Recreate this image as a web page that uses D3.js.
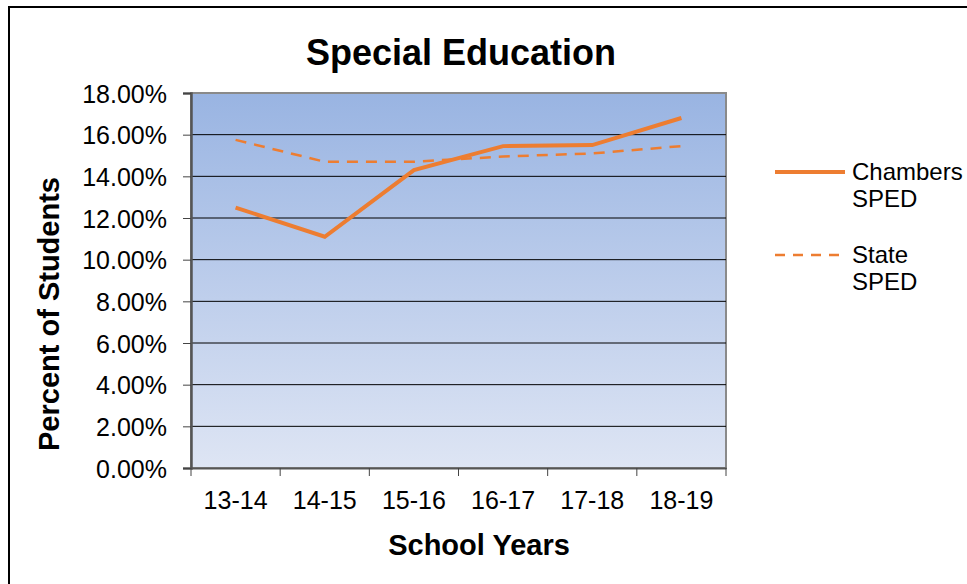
<!DOCTYPE html>
<html><head><meta charset="utf-8">
<script src="https://cdn.jsdelivr.net/npm/d3@7"></script>
<style>body{margin:0;background:#fff}svg{display:block;font-family:"Liberation Sans",Arial,sans-serif}</style>
</head><body><svg id="c" width="967" height="584"></svg>
<script>
const categories = ["13-14","14-15","15-16","16-17","17-18","18-19"];
const chambers = [12.5, 11.1, 14.3, 15.45, 15.5, 16.8];
const state = [15.75, 14.7, 14.7, 14.95, 15.1, 15.45];
const yTicks = [0,2,4,6,8,10,12,14,16,18];

const FF = "Liberation Sans, Arial, sans-serif";
const svg = d3.select("#c");
const L = 191, R = 726, T = 93, B = 468;
const x = d3.scaleBand().domain(categories).range([L, R]);
const y = d3.scaleLinear().domain([0, 18]).range([B, T]);

svg.append("rect").attr("x",9).attr("y",7).attr("width",967).attr("height",600)
  .attr("fill","#fff").attr("stroke","#000").attr("stroke-width",2);

const defs = svg.append("defs");
const g = defs.append("linearGradient").attr("id","bg").attr("x1",0).attr("y1",0).attr("x2",0).attr("y2",1);
g.append("stop").attr("offset","0%").attr("stop-color","#99b4e2");
g.append("stop").attr("offset","100%").attr("stop-color","#dee5f4");

svg.append("rect").attr("x",L).attr("y",T).attr("width",R-L).attr("height",B-T)
  .attr("fill","url(#bg)").attr("stroke","#8a8a8a").attr("stroke-width",2);

// gridlines
svg.append("g").selectAll("line").data(yTicks.filter(d=>d>0&&d<18)).join("line")
  .attr("x1",L).attr("x2",R).attr("y1",d=>y(d)).attr("y2",d=>y(d))
  .attr("stroke","#000").attr("stroke-width",1);

// y axis
const ya = svg.append("g").attr("transform",`translate(${L},0)`)
  .call(d3.axisLeft(y).tickValues(yTicks).tickSize(8).tickPadding(16).tickFormat(d=>d.toFixed(2)+"%"));
ya.select(".domain").attr("stroke","#555").attr("stroke-width",2.5);
ya.selectAll(".tick line").attr("stroke","#444");
ya.selectAll("text").attr("font-size",25).attr("fill","#000").attr("font-family",FF).attr("dy","0.36em");

// x axis
const xa = svg.append("g").attr("transform",`translate(0,${B})`)
  .call(d3.axisBottom(x).tickSize(0).tickPadding(0));
xa.select(".domain").attr("stroke","#555").attr("stroke-width",2);
xa.selectAll("text").attr("font-size",25).attr("fill","#000").attr("font-family",FF)
  .attr("y",41).attr("dy",0);
svg.append("g").selectAll("line").data(categories.map(c=>x(c)).concat([R])).join("line")
  .attr("x1",d=>d).attr("x2",d=>d).attr("y1",B).attr("y2",B+8).attr("stroke","#444");

const line = d3.line().x((d,i)=>x(categories[i])+x.bandwidth()/2).y(d=>y(d));
svg.append("path").datum(state).attr("d",line).attr("fill","none")
  .attr("stroke","#ed7d31").attr("stroke-width",2.5).attr("stroke-dasharray","11,8");
svg.append("path").datum(chambers).attr("d",line).attr("fill","none")
  .attr("stroke","#ed7d31").attr("stroke-width",4);

// titles
svg.append("text").attr("x",461).attr("y",65).attr("text-anchor","middle")
  .attr("font-size",36).attr("font-weight","bold").text("Special Education");
svg.append("text").attr("x",479).attr("y",555).attr("text-anchor","middle")
  .attr("font-size",29).attr("font-weight","bold").text("School Years");
svg.append("text").attr("transform","translate(59,314) rotate(-90)").attr("text-anchor","middle")
  .attr("font-size",29).attr("font-weight","bold").text("Percent of Students");

// legend
const leg = [{n:["Chambers","SPED"],y:172,dash:null,w:4},{n:["State","SPED"],y:255,dash:"10,8",w:2.5}];
leg.forEach(l=>{
  svg.append("line").attr("x1",775).attr("x2",845).attr("y1",l.y).attr("y2",l.y)
    .attr("stroke","#ed7d31").attr("stroke-width",l.w).attr("stroke-dasharray",l.dash);
  l.n.forEach((t,i)=>svg.append("text").attr("x",852).attr("y",l.y+8+i*27).attr("font-size",24).text(t));
});
</script></body></html>
